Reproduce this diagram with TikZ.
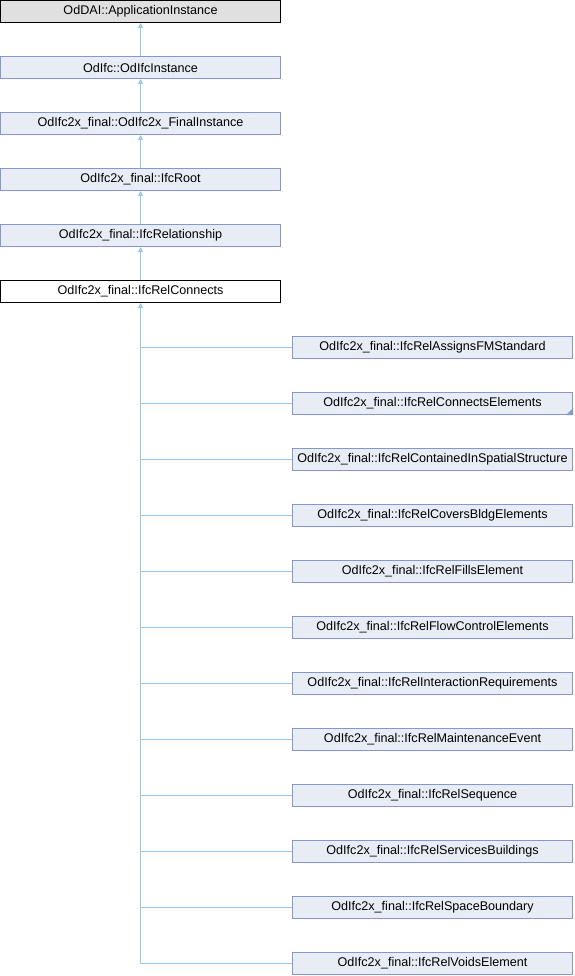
\documentclass[tikz,border=0pt]{standalone}
\usepackage{fontspec}
\setmainfont{Liberation Sans}
\usetikzlibrary{arrows.meta}
\definecolor{edgeblue}{HTML}{98C8E8}
\definecolor{boxfill}{HTML}{E8ECF5}
\definecolor{boxline}{HTML}{8499CA}
\definecolor{topfill}{HTML}{E0E0E0}
\tikzset{
  cls/.style={draw=boxline, fill=boxfill, line width=1pt, minimum width=280pt, minimum height=22pt, inner sep=0pt, font=\fontsize{12.6}{14}\selectfont},
  grey/.style={cls, draw=black, fill=topfill},
  cur/.style={cls, draw=black, fill=white},
  edge/.style={draw=edgeblue, line width=1pt},
  tip/.style={{Triangle[length=5pt,width=5pt,fill=edgeblue]}-}
}
\begin{document}
\begin{tikzpicture}[x=1pt,y=-1pt]
\useasboundingbox (0,0) rectangle (574,976);
\node[grey] (p0) at (140.5,11.5) {OdDAI::ApplicationInstance};
\node[cls] (p1) at (140.5,67.5) {OdIfc::OdIfcInstance};
\node[cls] (p2) at (140.5,123.5) {OdIfc2x\_final::OdIfc2x\_FinalInstance};
\node[cls] (p3) at (140.5,179.5) {OdIfc2x\_final::IfcRoot};
\node[cls] (p4) at (140.5,235.5) {OdIfc2x\_final::IfcRelationship};
\node[cur] (p5) at (140.5,291.5) {OdIfc2x\_final::IfcRelConnects};
\foreach \a/\b in {p0/p1,p1/p2,p2/p3,p3/p4,p4/p5}
  \draw[edge,tip] (\a.south) -- (\b.north);
\node[cls] (c1) at (432.5,347.5) {OdIfc2x\_final::IfcRelAssignsFMStandard};
\node[cls] (c2) at (432.5,403.5) {OdIfc2x\_final::IfcRelConnectsElements};
\node[cls] (c3) at (432.5,459.5) {OdIfc2x\_final::IfcRelContainedInSpatialStructure};
\node[cls] (c4) at (432.5,515.5) {OdIfc2x\_final::IfcRelCoversBldgElements};
\node[cls] (c5) at (432.5,571.5) {OdIfc2x\_final::IfcRelFillsElement};
\node[cls] (c6) at (432.5,627.5) {OdIfc2x\_final::IfcRelFlowControlElements};
\node[cls] (c7) at (432.5,683.5) {OdIfc2x\_final::IfcRelInteractionRequirements};
\node[cls] (c8) at (432.5,739.5) {OdIfc2x\_final::IfcRelMaintenanceEvent};
\node[cls] (c9) at (432.5,795.5) {OdIfc2x\_final::IfcRelSequence};
\node[cls] (c10) at (432.5,851.5) {OdIfc2x\_final::IfcRelServicesBuildings};
\node[cls] (c11) at (432.5,907.5) {OdIfc2x\_final::IfcRelSpaceBoundary};
\node[cls] (c12) at (432.5,963.5) {OdIfc2x\_final::IfcRelVoidsElement};
\fill[boxline] (c2.south east) -- ++(0,-7) -- ++(-7,7) -- cycle;
\coordinate (trunkend) at (c12.west -| p5.south);
\draw[edge,tip] (p5.south) -- (trunkend);
\foreach \c in {c1,c2,c3,c4,c5,c6,c7,c8,c9,c10,c11,c12}
  \draw[edge] (\c.west -| p5.south) -- (\c.west);
\end{tikzpicture}
\end{document}
